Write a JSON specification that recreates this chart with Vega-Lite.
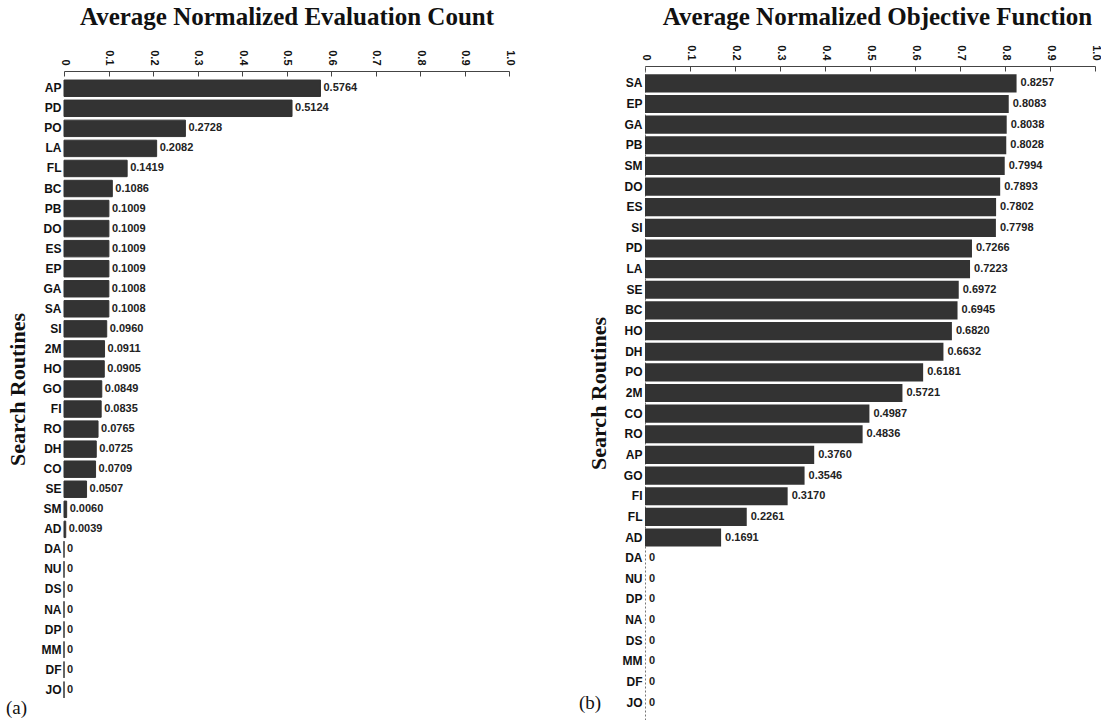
{
  "$schema": "https://vega.github.io/schema/vega-lite/v6.json",
  "padding": {"left": 6, "top": 4, "right": 0, "bottom": 0},
  "background": "white",
  "spacing": 64,
  "datasets": {
    "evalcount": [
      {"routine": "AP", "value": 0.5764, "label": "0.5764"},
      {"routine": "PD", "value": 0.5124, "label": "0.5124"},
      {"routine": "PO", "value": 0.2728, "label": "0.2728"},
      {"routine": "LA", "value": 0.2082, "label": "0.2082"},
      {"routine": "FL", "value": 0.1419, "label": "0.1419"},
      {"routine": "BC", "value": 0.1086, "label": "0.1086"},
      {"routine": "PB", "value": 0.1009, "label": "0.1009"},
      {"routine": "DO", "value": 0.1009, "label": "0.1009"},
      {"routine": "ES", "value": 0.1009, "label": "0.1009"},
      {"routine": "EP", "value": 0.1009, "label": "0.1009"},
      {"routine": "GA", "value": 0.1008, "label": "0.1008"},
      {"routine": "SA", "value": 0.1008, "label": "0.1008"},
      {"routine": "SI", "value": 0.0960, "label": "0.0960"},
      {"routine": "2M", "value": 0.0911, "label": "0.0911"},
      {"routine": "HO", "value": 0.0905, "label": "0.0905"},
      {"routine": "GO", "value": 0.0849, "label": "0.0849"},
      {"routine": "FI", "value": 0.0835, "label": "0.0835"},
      {"routine": "RO", "value": 0.0765, "label": "0.0765"},
      {"routine": "DH", "value": 0.0725, "label": "0.0725"},
      {"routine": "CO", "value": 0.0709, "label": "0.0709"},
      {"routine": "SE", "value": 0.0507, "label": "0.0507"},
      {"routine": "SM", "value": 0.0060, "label": "0.0060"},
      {"routine": "AD", "value": 0.0039, "label": "0.0039"},
      {"routine": "DA", "value": 0, "label": "0"},
      {"routine": "NU", "value": 0, "label": "0"},
      {"routine": "DS", "value": 0, "label": "0"},
      {"routine": "NA", "value": 0, "label": "0"},
      {"routine": "DP", "value": 0, "label": "0"},
      {"routine": "MM", "value": 0, "label": "0"},
      {"routine": "DF", "value": 0, "label": "0"},
      {"routine": "JO", "value": 0, "label": "0"}
    ],
    "objective": [
      {"routine": "SA", "value": 0.8257, "label": "0.8257"},
      {"routine": "EP", "value": 0.8083, "label": "0.8083"},
      {"routine": "GA", "value": 0.8038, "label": "0.8038"},
      {"routine": "PB", "value": 0.8028, "label": "0.8028"},
      {"routine": "SM", "value": 0.7994, "label": "0.7994"},
      {"routine": "DO", "value": 0.7893, "label": "0.7893"},
      {"routine": "ES", "value": 0.7802, "label": "0.7802"},
      {"routine": "SI", "value": 0.7798, "label": "0.7798"},
      {"routine": "PD", "value": 0.7266, "label": "0.7266"},
      {"routine": "LA", "value": 0.7223, "label": "0.7223"},
      {"routine": "SE", "value": 0.6972, "label": "0.6972"},
      {"routine": "BC", "value": 0.6945, "label": "0.6945"},
      {"routine": "HO", "value": 0.6820, "label": "0.6820"},
      {"routine": "DH", "value": 0.6632, "label": "0.6632"},
      {"routine": "PO", "value": 0.6181, "label": "0.6181"},
      {"routine": "2M", "value": 0.5721, "label": "0.5721"},
      {"routine": "CO", "value": 0.4987, "label": "0.4987"},
      {"routine": "RO", "value": 0.4836, "label": "0.4836"},
      {"routine": "AP", "value": 0.3760, "label": "0.3760"},
      {"routine": "GO", "value": 0.3546, "label": "0.3546"},
      {"routine": "FI", "value": 0.3170, "label": "0.3170"},
      {"routine": "FL", "value": 0.2261, "label": "0.2261"},
      {"routine": "AD", "value": 0.1691, "label": "0.1691"},
      {"routine": "DA", "value": 0, "label": "0"},
      {"routine": "NU", "value": 0, "label": "0"},
      {"routine": "DP", "value": 0, "label": "0"},
      {"routine": "NA", "value": 0, "label": "0"},
      {"routine": "DS", "value": 0, "label": "0"},
      {"routine": "MM", "value": 0, "label": "0"},
      {"routine": "DF", "value": 0, "label": "0"},
      {"routine": "JO", "value": 0, "label": "0"}
    ]
  },
  "config": {
    "view": {"stroke": null},
    "axis": {
      "grid": false,
      "domainColor": "#444",
      "tickColor": "#444",
      "labelFont": "Liberation Sans",
      "labelColor": "#111",
      "titleFont": "Liberation Serif",
      "titleFontWeight": "bold",
      "titleColor": "#111"
    },
    "title": {"font": "Liberation Serif", "fontSize": 19, "fontWeight": "normal", "color": "#111"}
  },
  "hconcat": [
    {
      "width": 445,
      "height": 646,
      "title": {"text": "(a)", "orient": "bottom", "anchor": "start", "frame": "bounds", "offset": -13, "dx": 0},
      "data": {"name": "evalcount"},
      "encoding": {
        "y": {
          "field": "routine", "type": "nominal", "sort": null,
          "scale": {"paddingInner": 0.18, "paddingOuter": 0.7},
          "axis": {"title": "Search Routines", "titleFontSize": 22, "titlePadding": 12, "domain": false, "ticks": false, "labelFontWeight": "bold", "labelFontSize": 12, "labelPadding": 3}
        },
        "x": {
          "field": "value", "type": "quantitative",
          "scale": {"domain": [0, 1]},
          "axis": {"orient": "top", "offset": -5, "title": "Average Normalized Evaluation Count", "titleFontSize": 25, "titlePadding": 20, "values": [0, 0.1, 0.2, 0.3, 0.4, 0.5, 0.6, 0.7, 0.8, 0.9, 1.0], "labelExpr": "datum.value == 0 ? '0' : datum.value == 1 ? '1.0' : format(datum.value, '.1f')", "labelAngle": 90, "labelFontSize": 11, "labelFontWeight": "bold", "tickSize": -5, "labelPadding": 11}
        }
      },
      "layer": [
        {"mark": {"type": "bar", "color": "#333333", "stroke": "#333333", "strokeWidth": 1}},
        {"mark": {"type": "text", "align": "left", "baseline": "middle", "dx": 3, "font": "Liberation Sans", "fontSize": 11, "fontWeight": "bold", "color": "#222"},
         "encoding": {"text": {"field": "label"}}}
      ]
    },
    {
      "width": 450,
      "height": 654,
      "title": {"text": "(b)", "orient": "bottom", "anchor": "start", "frame": "bounds", "offset": -26, "dx": -8},
      "data": {"name": "objective"},
      "encoding": {
        "y": {
          "field": "routine", "type": "nominal", "sort": null,
          "scale": {"paddingInner": 0.12, "paddingOuter": 0.4},
          "axis": {"title": "Search Routines", "titleFontSize": 22, "titlePadding": 12, "domain": true, "domainDash": [2, 2], "domainColor": "#777", "ticks": false, "labelFontWeight": "bold", "labelFontSize": 12, "labelPadding": 3}
        },
        "x": {
          "field": "value", "type": "quantitative",
          "scale": {"domain": [0, 1]},
          "axis": {"orient": "top", "title": "Average Normalized Objective Function", "titleFontSize": 25, "titlePadding": 15, "titleX": 232, "values": [0, 0.1, 0.2, 0.3, 0.4, 0.5, 0.6, 0.7, 0.8, 0.9, 1.0], "labelExpr": "datum.value == 0 ? '0' : datum.value == 1 ? '1.0' : format(datum.value, '.1f')", "labelAngle": 90, "labelFontSize": 11, "labelFontWeight": "bold", "tickSize": -5, "labelPadding": 11}
        }
      },
      "layer": [
        {"mark": {"type": "bar", "color": "#333333"}},
        {"mark": {"type": "text", "align": "left", "baseline": "middle", "dx": 4, "font": "Liberation Sans", "fontSize": 11, "fontWeight": "bold", "color": "#222"},
         "encoding": {"text": {"field": "label"}}}
      ]
    }
  ]
}
